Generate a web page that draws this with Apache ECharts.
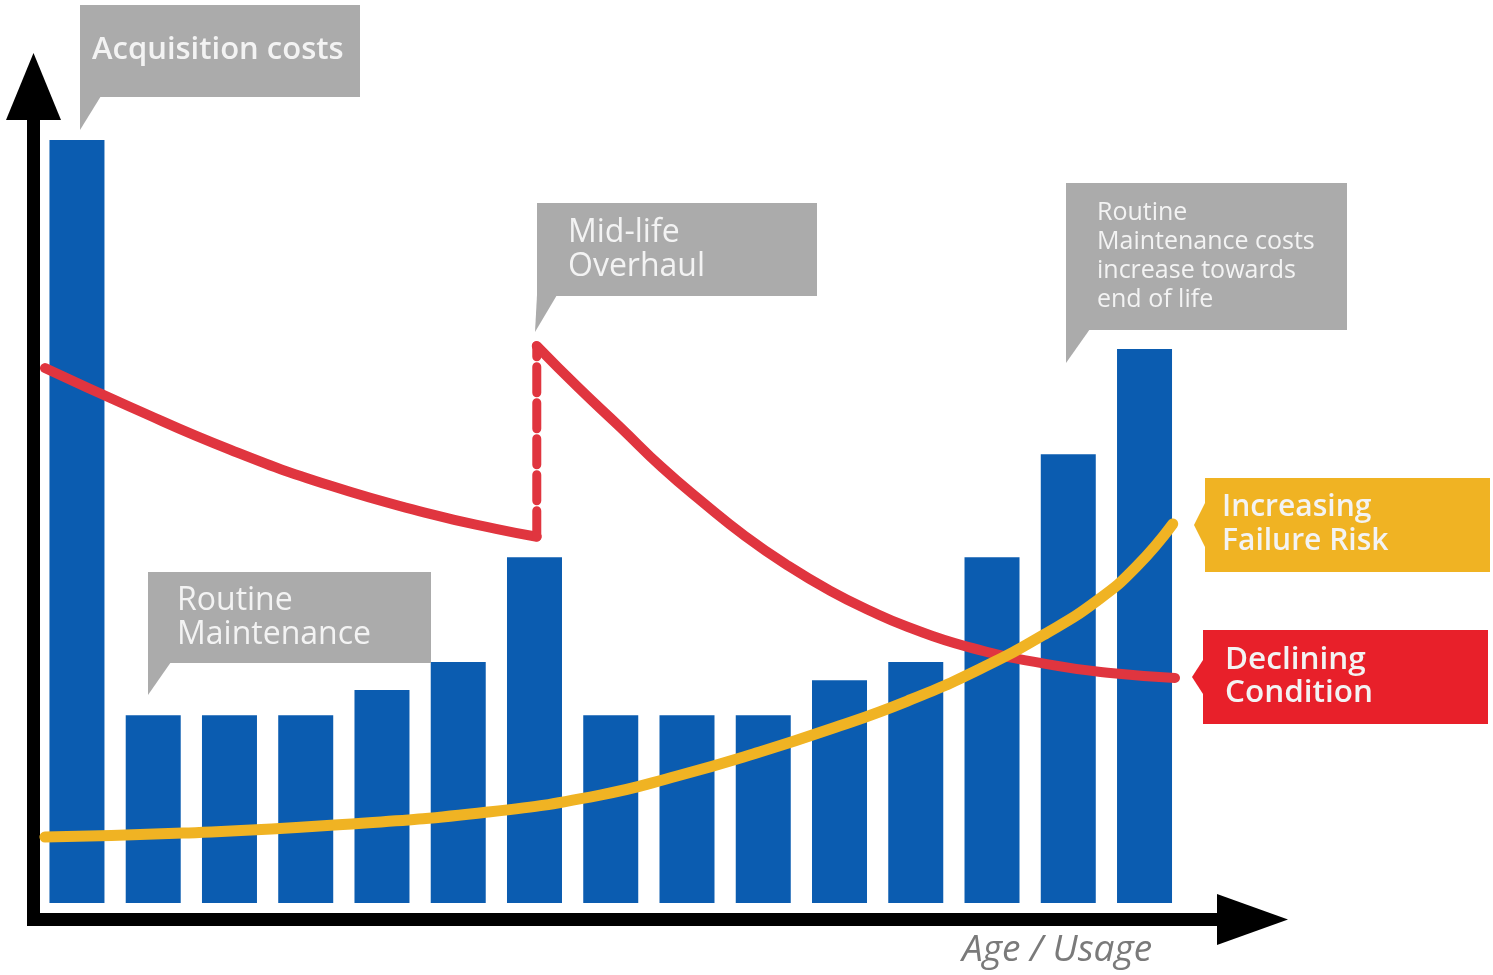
<!DOCTYPE html>
<html>
<head>
<meta charset="utf-8">
<title>Asset life cycle costs</title>
<script src="https://cdn.jsdelivr.net/npm/echarts@6/dist/echarts.min.js"></script>
<style>
  html, body { margin: 0; padding: 0; background: #fff; }
  #chart { width: 1493px; height: 975px; }
</style>
</head>
<body>
<div id="chart"></div>
<script>
// periods along the life of the asset (one bar each)
const periods = [0, 1, 2, 3, 4, 5, 6, 7, 8, 9, 10, 11, 12, 13, 14];
// cost per period, acquisition = 100
const costs = [100, 24.6, 24.6, 24.6, 27.9, 31.6, 45.3, 24.6, 24.6, 24.6, 29.2, 31.6, 45.3, 58.8, 72.6];

// condition before the mid-life overhaul [period, level]
const conditionBefore = [[-0.42, 70.1], [0.70, 65.0], [2.01, 59.4], [3.32, 54.7], [4.63, 51.0], [5.51, 49.0], [6.03, 48.0]];
// overhaul restores condition
const overhaulJump = [[6.03, 48.0], [6.03, 73.0]];
// condition after the overhaul
const conditionAfter = [[6.03, 73.0], [6.58, 67.5], [7.13, 62.3], [7.67, 57.1], [8.22, 52.4], [8.76, 48.1],
  [9.31, 44.3], [9.88, 40.9], [10.40, 38.3], [10.89, 36.2], [11.67, 33.6], [12.72, 31.3], [13.59, 30.1], [14.40, 29.5]];
// failure risk
const failureRisk = [[-0.42, 8.65], [1.39, 9.17], [3.38, 10.22], [5.39, 11.93], [6.86, 14.15], [7.87, 16.64],
  [8.87, 19.53], [9.88, 22.8], [10.89, 26.47], [11.84, 30.67], [12.72, 35.39], [13.39, 39.71], [13.89, 44.04], [14.37, 49.67]];

const FONT = '"Open Sans", "Noto Sans", sans-serif';
const BLUE = '#0b5cb0';
const RED = '#e0353f';
const YELLOW = '#f0b323';
const GREY = '#ababab';

// speech-bubble style annotation
function callout(box, pointer, lines, opt) {
    const els = [{
        type: 'rect',
        shape: { x: box[0], y: box[1], width: box[2], height: box[3] },
        style: { fill: opt.fill },
        z: 10
    }, {
        type: 'polygon',
        shape: { points: pointer },
        style: { fill: opt.fill },
        z: 10
    }];
    lines.forEach((t, i) => {
        els.push({
            type: 'text',
            x: opt.x,
            y: opt.y + i * opt.step,
            style: {
                text: t,
                fill: opt.color || '#f3f3f3',
                fontFamily: FONT,
                fontSize: opt.size,
                fontWeight: opt.weight || 400,
                verticalAlign: 'middle'
            },
            z: 11
        });
    });
    return els;
}

const chart = echarts.init(document.getElementById('chart'));

const graphics = [].concat(
    callout([80, 5, 280, 92], [[80, 96], [101, 96], [80, 130]], ['Acquisition costs'],
        { fill: GREY, x: 92, y: 50, step: 0, size: 31, weight: 600 }),
    callout([537, 203, 280, 93], [[537, 295], [557, 295], [535, 332]], ['Mid-life', 'Overhaul'],
        { fill: GREY, x: 568, y: 233, step: 34, size: 32 }),
    callout([1066, 183, 281, 147], [[1066, 329], [1090, 329], [1066, 363]],
        ['Routine', 'Maintenance costs', 'increase towards', 'end of life'],
        { fill: GREY, x: 1097, y: 213, step: 29, size: 25 }),
    callout([148, 572, 283, 91], [[148, 662], [171, 662], [148, 695]], ['Routine', 'Maintenance'],
        { fill: GREY, x: 177, y: 601, step: 34, size: 32 }),
    callout([1205, 478, 285, 94], [[1205, 503], [1194, 525], [1205, 547]], ['Increasing', 'Failure Risk'],
        { fill: YELLOW, x: 1222, y: 507, step: 34, size: 30, weight: 600 }),
    callout([1203, 630, 285, 94], [[1203, 660], [1192, 677], [1203, 694]], ['Declining', 'Condition'],
        { fill: '#e8202a', x: 1225, y: 660, step: 33, size: 31.5, weight: 600 }),
    [{
        type: 'text',
        x: 962,
        y: 950,
        style: {
            text: 'Age / Usage',
            fill: '#7a7a7a',
            fontFamily: FONT,
            fontSize: 37,
            fontStyle: 'italic',
            verticalAlign: 'middle'
        }
    }]
);

const option = {
    backgroundColor: '#ffffff',
    animation: false,
    grid: { left: 33.5, right: 240.5, top: 86.5, bottom: 55.5 },
    xAxis: {
        type: 'value',
        min: -0.57,
        max: 15.416,
        splitLine: { show: false },
        axisTick: { show: false },
        axisLabel: { show: false },
        axisLine: {
            onZero: false,
            symbol: ['none', 'triangle'],
            symbolSize: [51, 71],
            lineStyle: { color: '#000', width: 13, cap: 'square' }
        }
    },
    yAxis: {
        type: 'value',
        min: -2.16,
        max: 107.0,
        splitLine: { show: false },
        axisTick: { show: false },
        axisLabel: { show: false },
        axisLine: {
            onZero: false,
            symbol: ['none', 'triangle'],
            symbolSize: [55, 67],
            lineStyle: { color: '#000', width: 13, cap: 'square' }
        }
    },
    series: [{
        name: 'Cost',
        type: 'bar',
        barWidth: 55,
        data: periods.map((p, i) => [p, costs[i]]),
        itemStyle: { color: BLUE }
    }, {
        name: 'Condition',
        type: 'line',
        data: conditionBefore,
        smooth: 0.5,
        symbol: 'none',
        z: 3,
        lineStyle: { color: RED, width: 10, cap: 'round' }
    }, {
        name: 'Overhaul',
        type: 'line',
        data: overhaulJump,
        symbol: 'none',
        z: 3,
        lineStyle: { color: RED, width: 9, type: [26, 10], cap: 'round' }
    }, {
        name: 'Condition after overhaul',
        type: 'line',
        data: conditionAfter,
        smooth: 0.5,
        symbol: 'none',
        z: 3,
        lineStyle: { color: RED, width: 10, cap: 'round', join: 'round' }
    }, {
        name: 'Failure risk',
        type: 'line',
        data: failureRisk,
        smooth: 0.5,
        symbol: 'none',
        z: 4,
        lineStyle: { color: YELLOW, width: 11, cap: 'round' }
    }],
    graphic: graphics
};

chart.setOption(option);
</script>
</body>
</html>
